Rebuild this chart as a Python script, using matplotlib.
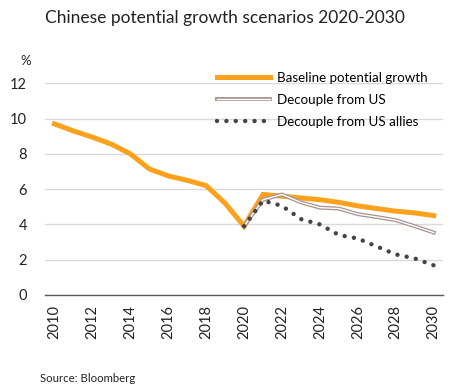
import matplotlib
matplotlib.use("Agg")
import matplotlib.pyplot as plt
import matplotlib.patheffects as pe

years = list(range(2010, 2031))
baseline = [9.7, 9.3, 8.95, 8.55, 8.0, 7.15, 6.75, 6.5, 6.2, 5.2, 3.9,
            5.7, 5.6, 5.5, 5.4, 5.25, 5.05, 4.9, 4.75, 4.65, 4.5]
us_years = list(range(2020, 2031))
decouple_us = [3.9, 5.4, 5.7, 5.25, 4.95, 4.9, 4.58, 4.42, 4.24, 3.9, 3.54]
decouple_allies = [3.9, 5.35, 5.05, 4.3, 4.0, 3.4, 3.2, 2.75, 2.3, 2.07, 1.68]
year_ticks = [str(y) for y in range(2010, 2031, 2)]

plt.rcParams['font.family'] = ['Lato', 'DejaVu Sans']

fig = plt.figure(figsize=(4.68, 3.92), dpi=100)
ax = fig.add_axes([0.096, 0.2475, 0.851, 0.54])

pos = {y: i for i, y in enumerate(years)}
x_all = [pos[y] for y in years]
x_us = [pos[y] for y in us_years]

ax.plot(x_all, baseline, color='#FBA11C', lw=3.6, solid_joinstyle='miter',
        label='Baseline potential growth', zorder=3)
ax.plot(x_us, decouple_us, color='white', lw=1.0, label='Decouple from US', zorder=4,
        path_effects=[pe.Stroke(linewidth=2.8, foreground='#A89290'), pe.Normal()])
ax.plot(x_us, decouple_allies, color='#4B4247', lw=3.2, linestyle=(0, (0.01, 2.1)),
        dash_capstyle='round', label='Decouple from US allies', zorder=5)

ax.set_xlim(-0.5, 20.5)
ax.set_ylim(0, 12)
ax.set_yticks(range(0, 13, 2))
ax.set_xticks(range(0, 21, 2))
ax.set_xticklabels(year_ticks, rotation=90)
ax.tick_params(length=0, labelsize=10.5, colors='#222222')
ax.tick_params(axis='y', pad=13)
ax.tick_params(axis='x', pad=7)
ax.grid(axis='y', color='#D9D9D9', lw=1.0)
ax.set_axisbelow(True)
for s in ['left', 'right', 'top']:
    ax.spines[s].set_visible(False)
ax.spines['bottom'].set_color('#595959')
ax.spines['bottom'].set_linewidth(1.0)

fig.text(0.096, 0.955, 'Chinese potential growth scenarios 2020-2030',
         fontsize=12.5, va='center', ha='left', color='#222222')
fig.text(0.043, 0.845, '%', fontsize=9.5, va='center', color='#222222')
fig.text(0.085, 0.035, 'Source: Bloomberg', fontsize=8.2, va='center', color='#222222')

fig.legend(loc='upper left', bbox_to_anchor=(0.452, 0.83), frameon=False,
           fontsize=9.6, handlelength=4.0, handletextpad=0.5, labelspacing=0.75,
           borderaxespad=0)

fig.savefig('out.png', dpi=100)
